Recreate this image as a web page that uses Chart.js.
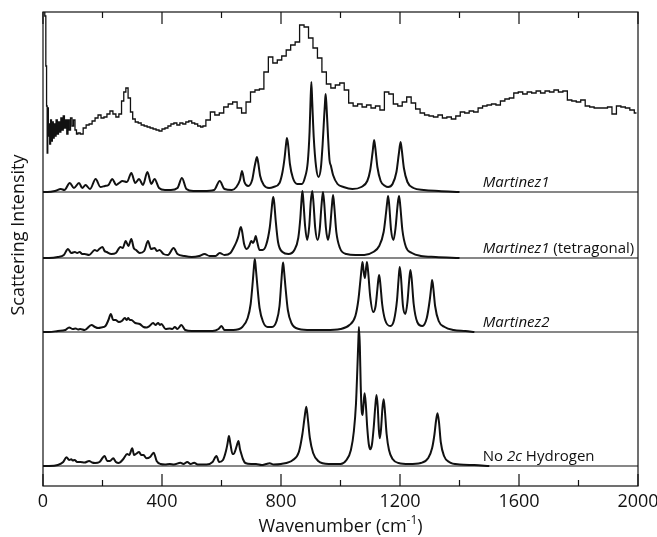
<!DOCTYPE html>
<html><head><meta charset="utf-8">
<script src="https://cdn.jsdelivr.net/npm/chart.js@4.4.0/dist/chart.umd.min.js"></script>
<style>html,body{margin:0;padding:0;background:#fff;}canvas{display:block;}</style>
</head><body>
<canvas id="c" width="657" height="537" style="width:657px;height:537px"></canvas>
<script>
// ---------- axis ----------
const xMajorTicks = [0, 400, 800, 1200, 1600, 2000];
const xMinorTicks = [200, 600, 1000, 1400, 1800];
const xTitle = 'Wavenumber (cm';
const xTitleSup = '-1';
const yTitle = 'Scattering Intensity';

// ---------- experimental spectrum (histogram, arbitrary units) ----------
const expX = [4,8,11,13,15,17,19,21,24,27,30,33,36,39,42,46,50,54,58,62,66,70,74,78,82,86,90,95,100,105,110,115,
 120,130,140,150,160,170,180,190,200,210,220,230,240,250,260,268,275,282,290,298,305,315,325,335,345,355,365,375,385,395,405,415,425,435,445,455,465,475,485,495,505,515,525,535,
 540,555,570,585,600,615,630,645,660,675,690,705,720,735,750,765,780,795,810,825,840,855,870,885,900,915,930,945,960,975,990,1005,1020,1035,
 1050,1065,1080,1095,1110,1125,1140,1155,1170,1185,1200,1215,1230,1245,1260,1275,1290,1305,1320,1335,1350,1365,1380,1395,1410,1425,1440,1455,1470,1485,
 1500,1515,1530,1545,1560,1575,1590,1605,1620,1635,1650,1665,1680,1695,1710,1725,1740,1755,1770,1785,1800,1815,1830,1845,1860,1875,1890,1905,1920,1935,1950,1965,1980,1995];
const expY = [474,470,420,380,333,378,350,362,342,366,345,364,348,362,350,366,352,364,354,368,356,370,358,366,352,366,356,368,360,366,356,352,
 353,352,358,361,362,365,368,371,368,369,372,375,372,369,372,385,394,398,388,374,367,364,363,361,360,359,358,357,356,355,357,358,360,362,363,361,363,362,364,365,363,362,360,359,
 360,366,374,371,373,379,382,384,378,373,384,394,396,397,414,429,423,426,430,436,441,444,461,459,448,438,428,414,402,398,401,403,396,383,
 380,382,379,381,378,380,376,394,392,382,380,384,389,383,377,373,371,370,369,371,368,369,367,370,374,373,375,374,378,380,
 381,382,381,385,387,388,393,394,392,394,393,395,393,395,394,396,394,395,386,385,384,386,380,379,378,378,378,379,372,380,379,378,376,373];

// ---------- calculated spectra: [wavenumber, intensity above own baseline] ----------
const martinez1Offset = 294;
const martinez1 = [[0,0],[15,0],[40,1],[60,3],[72,2],[90,9],[104,4],[121,9],[132,4],[143,7],[158,3],[177,13],[193,5],[208,6],[220,7],[233,13],[246,7],[256,9],[267,11],[282,10],[297,19],[310,9],[323,13],[336,7],[351,20],[364,8],[375,13],[390,4],[410,2],[430,2],[452,4],[467,14],[482,3],[505,1],[540,1],[575,2],[594,11],[610,3],[635,2],[650,5],[662,12],[669,21],[677,10],[690,6],[703,12],[711,25],[716,32],[719,35],[723,30],[730,16],[742,7],[760,4],[775,5],[795,9],[805,20],[812,34],[817,48],[820,54],[824,47],[830,28],[840,14],[855,8],[870,8],[880,14],[890,30],[896,60],[899,88],[902,110],[905,90],[910,55],[918,25],[926,15],[934,24],[940,48],[945,75],[948,90],[950,98],[953,86],[958,56],[963,32],[968,26],[975,17],[990,8],[1010,5],[1040,3],[1070,5],[1090,11],[1100,22],[1108,40],[1113,52],[1117,44],[1124,25],[1135,11],[1150,6],[1160,5],[1175,8],[1188,20],[1196,38],[1202,50],[1206,42],[1213,24],[1225,10],[1245,4],[1280,2],[1330,1],[1400,0]];

const tetragonalOffset = 228;
const tetragonal = [[0,0],[20,0],[50,1],[70,3],[84,9],[95,5],[107,6],[115,5],[123,6],[132,4],[140,4],[155,3],[174,8],[182,7],[189,9],[200,11],[207,7],[214,6],[230,4],[245,5],[260,11],[268,10],[278,17],[287,12],[297,19],[305,10],[313,8],[325,5],[340,7],[353,17],[363,9],[375,10],[383,7],[392,8],[405,4],[420,3],[439,10],[452,4],[475,2],[500,1],[525,2],[543,4],[560,2],[580,2],[594,5],[610,3],[630,5],[642,11],[650,16],[657,22],[662,29],[665,31],[669,27],[676,14],[685,9],[693,12],[700,17],[706,15],[711,18],[715,22],[720,16],[728,8],[738,8],[750,13],[762,30],[768,47],[771,56],[774,61],[777,56],[782,38],[790,16],[805,6],[825,4],[845,8],[858,20],[865,40],[869,58],[872,67],[875,58],[881,32],[888,18],[895,32],[900,56],[905,67],[909,56],[915,30],[923,18],[930,28],[936,52],[941,66],[945,56],[951,30],[958,18],[965,30],[971,52],[975,63],[979,52],[986,26],[998,10],[1020,4],[1050,3],[1080,3],[1110,6],[1130,12],[1145,26],[1153,45],[1157,56],[1160,62],[1164,52],[1170,28],[1178,18],[1185,30],[1191,50],[1194,58],[1197,62],[1201,52],[1208,28],[1220,11],[1240,5],[1270,2],[1320,1],[1400,0]];

const martinez2Offset = 154;
const martinez2 = [[0,0],[20,0],[50,1],[75,2],[88,4.5],[100,3],[110,3.5],[118,2.5],[125,3],[140,2],[163,7],[175,5],[185,4],[196,4.5],[210,6],[220,12],[228,18],[236,12],[244,12],[255,10],[265,11],[275,14],[281,12],[286,14],[292,12],[297,12],[310,9],[325,8],[338,5],[348,4.5],[358,6],[370,9],[378,7],[387,9],[393,7],[398,8],[412,3],[426,3.5],[435,3],[443,5],[452,3],[465,7],[478,2],[500,1],[540,1],[570,1],[590,3],[600,6],[610,2],[640,2],[670,5],[688,14],[698,28],[705,50],[709,65],[712,73],[715,65],[720,48],[728,24],[740,10],[755,5],[770,5],[785,11],[795,26],[801,50],[804,62],[807,69.5],[810,62],[815,45],[823,22],[835,9],[860,3],[900,2],[950,2],[1000,3],[1030,7],[1050,16],[1060,32],[1067,52],[1071,64],[1074,70],[1078,60],[1082,54],[1086,64],[1089,70],[1093,60],[1100,35],[1110,20],[1118,26],[1124,43],[1127,52],[1130,57],[1134,48],[1140,28],[1150,12],[1168,6],[1180,12],[1190,32],[1195,52],[1199,65],[1203,56],[1210,26],[1218,18],[1225,30],[1231,52],[1235,62],[1239,54],[1246,28],[1258,10],[1275,6],[1290,14],[1300,32],[1305,45],[1308,52],[1312,44],[1318,26],[1330,11],[1350,5],[1380,2],[1420,1],[1450,0]];

const noHydrogenOffset = 20;
const noHydrogen = [[0,0],[20,0],[50,1],[68,4],[79,8.7],[88,6],[95,6.7],[100,5.5],[106,6],[115,4],[125,4],[140,3.5],[155,5],[165,3.5],[175,3],[190,4],[207,10],[216,5],[225,5],[236,7.7],[245,4],[255,3],[270,7],[283,12],[290,11],[300,17.7],[306,11],[312,12],[323,14],[330,11],[338,11],[348,7.7],[360,9],[372,13.3],[382,5],[395,2],[410,1.5],[426,2],[440,1.5],[462,3.3],[472,2],[485,4],[496,2],[508,3.3],[520,1.5],[550,1.5],[570,4],[583,10],[592,4],[605,6],[615,15],[620,22],[625,30],[630,22],[637,12],[641,12],[647,16],[652,21],[657,25],[662,17],[666,12.7],[672,7],[680,3],[700,2],[716,2],[735,1],[750,2],[762,2.7],[775,1.5],[800,2],[840,6],[860,14],[872,32],[879,48],[885,59.3],[890,48],[897,28],[908,13],[925,5],[960,2],[1000,2],[1020,6],[1035,16],[1045,35],[1052,62],[1057,100],[1060,125],[1062,139],[1065,120],[1068,80],[1071,56],[1074,51],[1077,60],[1081,72.7],[1085,62],[1090,38],[1095,22],[1100,16.7],[1106,22],[1112,40],[1117,60],[1121,71],[1125,60],[1129,36],[1132,27.7],[1136,36],[1141,58],[1145,66.7],[1149,56],[1155,32],[1163,16],[1175,7],[1195,3],[1230,2],[1270,3],[1295,8],[1308,18],[1316,32],[1321,45],[1326,52.7],[1331,44],[1337,24],[1348,10],[1365,4],[1400,1.5],[1450,1],[1500,0]];

// ---------- trace labels ----------
const traceLabels = [
  {offset: martinez1Offset, parts: [['Martinez1', 'italic']]},
  {offset: tetragonalOffset, parts: [['Martinez1', 'italic'], [' (tetragonal)', 'normal']]},
  {offset: martinez2Offset, parts: [['Martinez2', 'italic']]},
  {offset: noHydrogenOffset, parts: [['No ', 'normal'], ['2c', 'italic'], [' Hydrogen', 'normal']]}
];
const labelWavenumber = 1478;

// ---------- build datasets ----------
const FONT = '"Open Sans", "DejaVu Sans", sans-serif';
const INK = '#111';
function shifted(points, off) { return points.map(p => ({x: p[0], y: p[1] + off})); }
function calcSet(points, off) {
  return {data: shifted(points, off), borderColor: INK, borderWidth: 2, pointRadius: 0,
          cubicInterpolationMode: 'monotone', fill: false};
}
function baseSet(off) {
  return {data: [{x: 0, y: off}, {x: 2000, y: off}], borderColor: INK, borderWidth: 1.1, pointRadius: 0, fill: false};
}
const datasets = [
  {data: expX.map((x, i) => ({x, y: expY[i]})), borderColor: INK, borderWidth: 1.3, pointRadius: 0, stepped: 'middle', fill: false},
  baseSet(martinez1Offset), calcSet(martinez1, martinez1Offset),
  baseSet(tetragonalOffset), calcSet(tetragonal, tetragonalOffset),
  baseSet(martinez2Offset), calcSet(martinez2, martinez2Offset),
  baseSet(noHydrogenOffset), calcSet(noHydrogen, noHydrogenOffset)
];

const decorPlugin = {
  id: 'decor',
  afterDatasetsDraw(chart) {
    const {ctx, chartArea: a, scales: {x, y}} = chart;
    ctx.save();
    ctx.strokeStyle = INK; ctx.lineWidth = 1.2;
    ctx.strokeRect(a.left, a.top, a.right - a.left, a.bottom - a.top);
    const tick = (v, len) => {
      const px = x.getPixelForValue(v);
      ctx.beginPath();
      ctx.moveTo(px, a.bottom); ctx.lineTo(px, a.bottom - len);
      ctx.moveTo(px, a.top); ctx.lineTo(px, a.top + len);
      ctx.stroke();
    };
    xMajorTicks.forEach(v => tick(v, 12));
    xMinorTicks.forEach(v => tick(v, 6));

    // trace labels
    ctx.fillStyle = INK; ctx.textBaseline = 'alphabetic'; ctx.textAlign = 'left';
    traceLabels.forEach(l => {
      let px = x.getPixelForValue(labelWavenumber);
      const py = y.getPixelForValue(l.offset) - 5;
      l.parts.forEach(([t, st]) => {
        ctx.font = (st === 'italic' ? 'italic ' : '') + '15px ' + FONT;
        ctx.fillText(t, px, py);
        px += ctx.measureText(t).width;
      });
    });

    // y title
    ctx.save();
    ctx.font = '18px ' + FONT;
    ctx.translate(a.left - 24.5, (a.top + a.bottom) / 2 - 14);
    ctx.rotate(-Math.PI / 2);
    ctx.textAlign = 'center'; ctx.textBaseline = 'middle';
    ctx.fillText(yTitle, 0, 0);
    ctx.restore();

    // x title with superscript
    ctx.font = '18px ' + FONT;
    const w1 = ctx.measureText(xTitle).width;
    ctx.font = '12px ' + FONT;
    const w2 = ctx.measureText(xTitleSup).width;
    ctx.font = '18px ' + FONT;
    const w3 = ctx.measureText(')').width;
    let sx = (a.left + a.right) / 2 - (w1 + w2 + w3) / 2;
    const by = a.bottom + 46;
    ctx.textAlign = 'left'; ctx.textBaseline = 'alphabetic';
    ctx.fillText(xTitle, sx, by); sx += w1;
    ctx.font = '12px ' + FONT;
    ctx.fillText(xTitleSup, sx, by - 8); sx += w2;
    ctx.font = '18px ' + FONT;
    ctx.fillText(')', sx, by);
    ctx.restore();
  }
};

new Chart(document.getElementById('c'), {
  type: 'line',
  data: {datasets},
  options: {
    responsive: false, animation: false, devicePixelRatio: 1,
    layout: {padding: {left: 43, right: 19, top: 12, bottom: 0}},
    plugins: {legend: {display: false}, tooltip: {enabled: false}},
    scales: {
      x: {type: 'linear', min: 0, max: 2000,
          grid: {display: false, drawTicks: false}, border: {display: false},
          ticks: {stepSize: 400, color: INK, padding: 5, maxRotation: 0, font: {family: FONT, size: 18},
                  callback: v => xMajorTicks.includes(v) ? String(v) : ''},
          afterFit: s => { s.height = 51; s.paddingLeft = 0; s.paddingRight = 0; }},
      y: {type: 'linear', min: 0, max: 474, display: false}
    }
  },
  plugins: [decorPlugin]
});
</script>
</body></html>
